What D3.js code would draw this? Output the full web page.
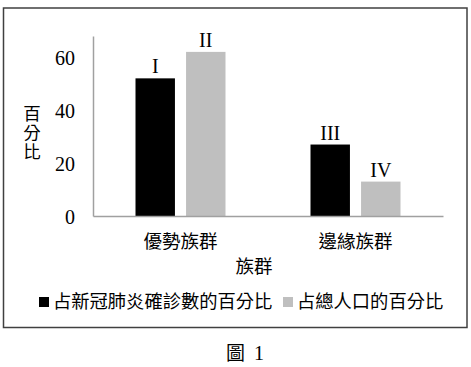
<!DOCTYPE html>
<html>
<head>
<meta charset="utf-8">
<script src="https://cdn.jsdelivr.net/npm/d3@7"></script>
<style>
  body { margin: 0; background: #fff; }
  text { fill: #000; }
  .serif { font-family: "Liberation Serif", "Noto Sans CJK TC", serif; }
  .cjk { font-family: "Noto Sans CJK TC", "Liberation Serif", sans-serif; }
</style>
</head>
<body>
<svg id="chart" width="471" height="367"></svg>
<script>
// data
var groups = ["優勢族群", "邊緣族群"];
var seriesNames = ["占新冠肺炎確診數的百分比", "占總人口的百分比"];
var casesPct = [52, 27];
var popPct = [62, 13];
var barLabels = [["I", "II"], ["III", "IV"]];
var yTicks = [0, 20, 40, 60];
var colors = ["#000000", "#bfbfbf"];

var svg = d3.select("#chart");

// outer frame
svg.append("rect")
    .attr("x", 3.5).attr("y", 8)
    .attr("width", 463.5).attr("height", 319.5)
    .attr("fill", "none")
    .attr("stroke", "#404040")
    .attr("stroke-width", 1.5);

var plot = {left: 93, right: 443, top: 36, bottom: 216};

var y = d3.scaleLinear().domain([0, 68]).range([plot.bottom, plot.top]);
var x = d3.scaleBand().domain(groups).range([plot.left, plot.right]);
var bw = x.bandwidth();
var xs = d3.scaleBand().domain(seriesNames)
    .range([bw / 2 - 45, bw / 2 + 45])
    .paddingInner(0.22);

// y axis
var yAxis = svg.append("g")
    .attr("transform", "translate(" + plot.left + ",0)")
    .call(d3.axisLeft(y).tickValues(yTicks).tickSize(0).tickSizeOuter(0).tickPadding(18));
yAxis.select(".domain").attr("stroke", "#a0a0a0").attr("stroke-width", 1.5);
yAxis.selectAll("text")
    .attr("class", "serif")
    .style("font-size", "20px")
    .attr("dy", "0.35em");

// bars
var rows = groups.map(function(g, i) {
    return [
        {group: g, s: seriesNames[0], v: casesPct[i], lab: barLabels[i][0], c: colors[0]},
        {group: g, s: seriesNames[1], v: popPct[i], lab: barLabels[i][1], c: colors[1]}
    ];
});

var gGroups = svg.selectAll("g.grp")
    .data(rows)
    .enter().append("g")
    .attr("class", "grp")
    .attr("transform", function(d) { return "translate(" + x(d[0].group) + ",0)"; });

gGroups.selectAll("rect")
    .data(function(d) { return d; })
    .enter().append("rect")
    .attr("x", function(d) { return xs(d.s); })
    .attr("y", function(d) { return y(d.v); })
    .attr("width", xs.bandwidth())
    .attr("height", function(d) { return y(0) - y(d.v); })
    .attr("fill", function(d) { return d.c; });

gGroups.selectAll("text.lab")
    .data(function(d) { return d; })
    .enter().append("text")
    .attr("class", "lab serif")
    .attr("x", function(d) { return xs(d.s) + xs.bandwidth() / 2; })
    .attr("y", function(d) { return y(d.v) - 5; })
    .attr("text-anchor", "middle")
    .style("font-size", "20px")
    .text(function(d) { return d.lab; });

// x axis
var xAxis = svg.append("g")
    .attr("transform", "translate(0," + plot.bottom + ")")
    .call(d3.axisBottom(x).tickSize(0).tickSizeOuter(0));
xAxis.select(".domain").attr("stroke", "#a0a0a0").attr("stroke-width", 1.5);
xAxis.selectAll("text")
    .attr("class", "cjk")
    .style("font-size", "18.5px")
    .attr("y", 26)
    .attr("dy", "0.35em");
xAxis.attr("font-family", null).attr("font-size", null);
yAxis.attr("font-family", null).attr("font-size", null);

// axis titles
svg.append("text")
    .attr("class", "cjk")
    .attr("x", 254).attr("y", 267)
    .attr("dy", "0.35em")
    .attr("text-anchor", "middle")
    .style("font-size", "18.5px")
    .text("族群");

// vertical y title
svg.append("text")
    .attr("class", "cjk")
    .attr("x", 32)
    .attr("y", 133)
    .attr("text-anchor", "middle")
    .style("writing-mode", "vertical-rl")
    .style("text-orientation", "upright")
    .style("letter-spacing", "1.5px")
    .style("font-size", "17.5px")
    .text("百分比");

// legend
var legX = [39, 283];
var leg = svg.selectAll("g.leg")
    .data(seriesNames)
    .enter().append("g")
    .attr("class", "leg")
    .attr("transform", function(d, i) { return "translate(" + legX[i] + ",302)"; });
leg.append("rect")
    .attr("x", 0).attr("y", -5)
    .attr("width", 10).attr("height", 10)
    .attr("fill", function(d, i) { return colors[i]; });
leg.append("text")
    .attr("class", "cjk")
    .attr("x", 14)
    .attr("dy", "0.35em")
    .style("font-size", "18.3px")
    .text(function(d) { return d; });

// caption
svg.append("text")
    .attr("class", "cjk")
    .attr("x", 226).attr("y", 353)
    .attr("dy", "0.35em")
    .style("font-size", "19px")
    .text("圖");
svg.append("text")
    .attr("class", "serif")
    .attr("x", 254).attr("y", 353)
    .attr("dy", "0.35em")
    .style("font-size", "20px")
    .text("1");
</script>
</body>
</html>
